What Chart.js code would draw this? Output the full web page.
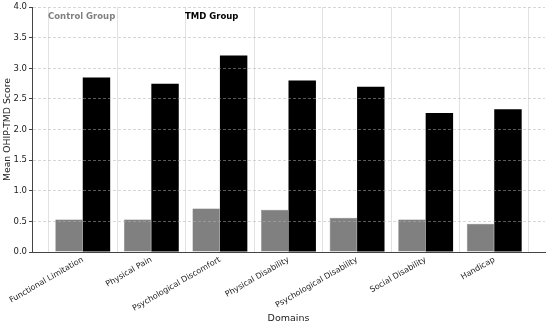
<!DOCTYPE html>
<html>
<head>
<meta charset="utf-8">
<script src="https://cdn.jsdelivr.net/npm/chart.js@4"></script>
<style>
    html, body { margin: 0; padding: 0; background: #fff; }
    #wrap { width: 550px; height: 325px; }
</style>
</head>
<body>
<div id="wrap"><canvas id="chart"></canvas></div>
<script>

const domains = [
    "Functional Limitation",
    "Physical Pain",
    "Psychological Discomfort",
    "Physical Disability",
    "Psychological Disability",
    "Social Disability",
    "Handicap"
];

const controlScores = [0.53, 0.53, 0.71, 0.69, 0.56, 0.53, 0.46];

const tmdScores = [2.85, 2.75, 3.21, 2.80, 2.70, 2.27, 2.33];

const yTicks = [0, 0.5, 1.0, 1.5, 2.0, 2.5, 3.0, 3.5, 4.0];

const fontFamily = "'DejaVu Sans', sans-serif";

// legend is plain text inside the plot, like the original
const textLegend = {
    id: "textLegend",
    afterDraw(chart) {
        const ctx = chart.ctx;
        const area = chart.chartArea;
        ctx.save();
        ctx.font = "bold 8.5px " + fontFamily;
        ctx.textBaseline = "middle";
        ctx.fillStyle = "#808080";
        ctx.fillText("Control Group", area.left + 16, area.top + 10);
        ctx.fillStyle = "#000000";
        ctx.fillText("TMD Group", area.left + 153, area.top + 10);
        ctx.restore();
    }
};

new Chart(document.getElementById("chart"), {

    type: "bar",

    data: {

        datasets: [

            {
                label: "Control Group",
                data: controlScores.map((v, i) => ({ x: i, y: v })),
                backgroundColor: "#808080",
                borderColor: "#6e6e6e",
                borderWidth: 0.5
            },

            {
                label: "TMD Group",
                data: tmdScores.map((v, i) => ({ x: i, y: v })),
                backgroundColor: "#000000",
                borderWidth: 0
            }
        ]
    },

    options: {

        responsive: true,
        maintainAspectRatio: false,
        animation: false,

        layout: {
            padding: { top: 6, right: 5, left: 0, bottom: 0 }
        },

        datasets: {
            bar: {
                categoryPercentage: 0.8,
                barPercentage: 1.0
            }
        },

        plugins: {
            legend: { display: false },
            tooltip: { enabled: false }
        },

        scales: {

            x: {
                type: "linear",
                min: -0.74,
                max: 6.74,
                offset: false,
                afterBuildTicks(scale) {
                    scale.ticks = domains.map((d, i) => ({ value: i }));
                },
                afterFit(scale) {
                    scale.height = 73;
                },
                ticks: {
                    callback: (value) => domains[value],
                    autoSkip: false,
                    maxRotation: 30,
                    minRotation: 30,
                    padding: 3,
                    color: "#222",
                    font: { family: fontFamily, size: 8 }
                },
                grid: {
                    color: "rgba(190, 190, 190, 0.45)",
                    z: 1,
                    drawTicks: false
                },
                // border drawn after the grid layer
                border: {
                    color: "#444",
                    width: 1,
                    z: 2
                },
                title: {
                    display: true,
                    text: "Domains",
                    color: "#222",
                    padding: { top: 0, bottom: 1 },
                    font: { family: fontFamily, size: 9.5 }
                }
            },

            y: {
                min: 0,
                max: 4,
                afterBuildTicks(scale) {
                    scale.ticks = yTicks.map(v => ({ value: v }));
                },
                afterFit(scale) {
                    scale.width = 32;
                },
                ticks: {
                    callback: (value) => value.toFixed(1),
                    padding: 2,
                    color: "#222",
                    font: { family: fontFamily, size: 8.5 }
                },
                grid: {
                    color: "rgba(176, 176, 176, 0.5)",
                    z: 1,
                    drawTicks: true,
                    tickLength: 3,
                    tickColor: "#444"
                },
                border: {
                    color: "#444",
                    width: 1,
                    dash: [3, 2],
                    z: 2
                },
                title: {
                    display: true,
                    text: "Mean OHIP-TMD Score",
                    color: "#222",
                    padding: { top: 2, bottom: 0 },
                    font: { family: fontFamily, size: 9.3 }
                }
            }
        }
    },

    plugins: [textLegend]
});
</script>
</body>
</html>
